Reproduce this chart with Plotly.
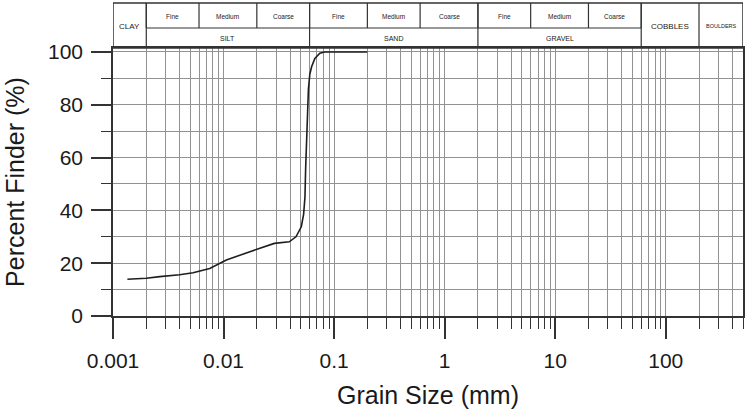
import math
import plotly.graph_objects as go

# ---- data ----
grain_size_mm = [0.00135, 0.002, 0.00265, 0.004, 0.0053, 0.0075, 0.0106, 0.015, 0.021,
                 0.0288, 0.035, 0.0393, 0.0452, 0.0505, 0.053, 0.0545, 0.0553, 0.0562,
                 0.0572, 0.0586, 0.0603, 0.0627, 0.067, 0.0743, 0.0823, 0.1, 0.2]
percent_finer = [13.9, 14.3, 14.9, 15.6, 16.4, 18.0, 21.2, 23.5, 25.6,
                 27.5, 27.9, 28.1, 30.0, 33.8, 38.5, 45.0, 56.0, 67.0,
                 78.0, 86.0, 91.5, 94.5, 97.5, 99.5, 100.0, 100.0, 100.0]

x_tick_vals = [0.001, 0.01, 0.1, 1, 10, 100]
x_tick_text = ["0.001", "0.01", "0.1", "1", "10", "100"]
y_tick_vals = [0, 20, 40, 60, 80, 100]

# classification table (boundaries in mm)
x_min, x_max = 0.001, 500
sub_cells = [  # (lo, hi, label) upper row
    (0.002, 0.006, "Fine"), (0.006, 0.02, "Medium"), (0.02, 0.06, "Coarse"),
    (0.06, 0.2, "Fine"), (0.2, 0.6, "Medium"), (0.6, 2, "Coarse"),
    (2, 6, "Fine"), (6, 20, "Medium"), (20, 60, "Coarse"),
]
main_cells = [(0.002, 0.06, "SILT"), (0.06, 2, "SAND"), (2, 60, "GRAVEL")]
full_cells = [(0.001, 0.002, "CLAY", 8), (60, 200, "COBBLES", 8), (200, 500, "BOULDERS", 5.5)]

FONT = "Liberation Sans, Arial, sans-serif"
TXT = "#1a1a1a"
LINE = "#333333"
GRID = "#929292"

W, H = 752, 412
ml, mr, mt, mb = 113, 9, 48, 96
ph = H - mt - mb
def py(pix):  # pixel y from top -> paper y
    return (H - mb - pix) / ph

y_top, y_mid, y_bot = py(3), py(28), py(48)
L = math.log10

fig = go.Figure()
fig.add_trace(go.Scatter(x=grain_size_mm, y=percent_finer, mode="lines",
                         line=dict(color="#1e1e1e", width=1.6), showlegend=False,
                         hoverinfo="skip"))

minor_vals = [m * 10 ** e for e in range(-3, 3) for m in range(2, 10) if m * 10 ** e <= x_max]

def vline(b, y0, y1, w=1.2):
    return dict(type="line", xref="x", yref="paper", x0=b, x1=b, y0=y0, y1=y1,
                line=dict(color=LINE, width=w))

shapes = []
# outer rectangle (shapes on log axes take data values)
shapes.append(dict(type="rect", xref="x", yref="paper", x0=x_min, x1=x_max,
                   y0=y_bot, y1=y_top, line=dict(color=LINE, width=1.5)))
shapes.append(dict(type="line", xref="x", yref="paper", x0=0.002, x1=60,
                   y0=y_mid, y1=y_mid, line=dict(color=LINE, width=1.2)))
for b in sorted({v for lo, hi, _ in main_cells for v in (lo, hi)} | {200}):
    shapes.append(vline(b, y_bot, y_top))
for b in sorted({v for lo, hi, _ in sub_cells for v in (lo, hi)}):
    shapes.append(vline(b, y_mid, y_top))

def label(lo, hi, yc, t, s):
    return dict(x=(L(lo) + L(hi)) / 2, y=yc, xref="x", yref="paper", xanchor="center",
                yanchor="middle", text=t, showarrow=False,
                font=dict(family=FONT, size=s, color=TXT))

annotations = []
for lo, hi, t in sub_cells:
    annotations.append(label(lo, hi, py(16), t, 6.5))
for lo, hi, t in main_cells:
    annotations.append(label(lo, hi, py(38), t, 7))
for lo, hi, t, s in full_cells:
    annotations.append(label(lo, hi, py(26), t, s))

fig.update_layout(
    width=W, height=H,
    margin=dict(l=ml, r=mr, t=mt, b=mb, pad=0, autoexpand=False),
    paper_bgcolor="white", plot_bgcolor="white",
    shapes=shapes, annotations=annotations,
    font=dict(family=FONT, color=TXT),
)
fig.update_xaxes(
    type="log", range=[L(x_min), L(x_max)], automargin=False,
    tickmode="array", tickvals=x_tick_vals, ticktext=x_tick_text,
    ticks="outside", ticklen=21, tickwidth=1.5, tickcolor=LINE,
    tickfont=dict(size=21, family=FONT, color=TXT), ticklabelstandoff=4,
    showgrid=True, gridcolor=GRID, gridwidth=1,
    minor=dict(tickmode="array", tickvals=minor_vals, ticks="outside", ticklen=11,
               tickwidth=1, tickcolor=LINE, showgrid=True, gridcolor=GRID, gridwidth=1),
    showline=True, linecolor=LINE, linewidth=1.5, mirror=True,
    zeroline=False,
    title=dict(text="Grain Size (mm)", font=dict(size=25, family=FONT, color=TXT), standoff=16),
)
fig.update_yaxes(
    range=[0, 101.5], automargin=False,
    tickmode="array", tickvals=y_tick_vals,
    ticks="outside", ticklen=20, tickwidth=1.5, tickcolor=LINE,
    tickfont=dict(size=21, family=FONT, color=TXT), ticklabelstandoff=4,
    showgrid=True, gridcolor=GRID, gridwidth=1,
    minor=dict(dtick=10, tick0=0, ticks="outside", ticklen=10, tickwidth=1, tickcolor=LINE,
               showgrid=True, gridcolor=GRID, gridwidth=1),
    showline=True, linecolor=LINE, linewidth=1.5, mirror=True,
    zeroline=False,
    title=dict(text="Percent Finder (%)", font=dict(size=25, family=FONT, color=TXT), standoff=16),
)

fig.write_html("out.html")
